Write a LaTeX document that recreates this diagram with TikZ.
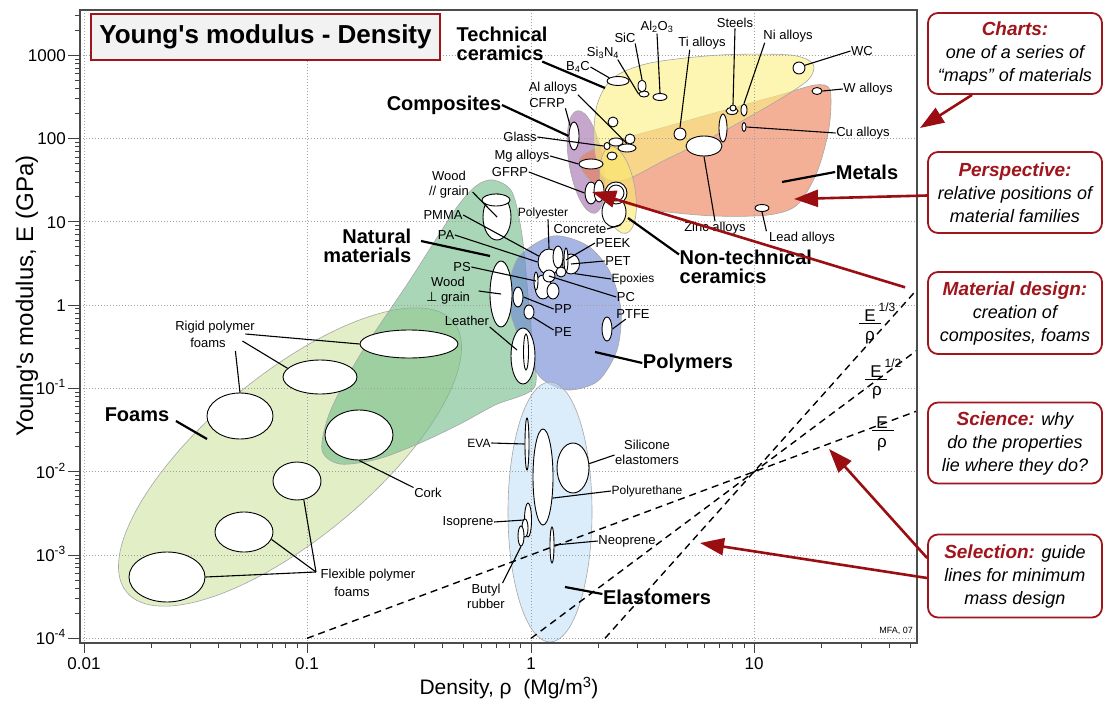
\documentclass[tikz,border=0pt]{standalone}
\usepackage{fontspec}
\setmainfont{Liberation Sans}
\newfontfamily\dejavu{DejaVu Sans}
\usetikzlibrary{arrows.meta,shapes.geometric}
\definecolor{dred}{HTML}{A0151C}
\definecolor{ared}{HTML}{9A0E12}
\definecolor{cfoam}{HTML}{CFE4A0}
\definecolor{cnat}{HTML}{71BB87}
\definecolor{cpoly}{HTML}{6B85D2}
\definecolor{celas}{HTML}{C3E1F8}
\definecolor{ctech}{HTML}{FCF080}
\definecolor{cmet}{HTML}{ED7B53}
\definecolor{ccomp}{HTML}{A26BAD}
\definecolor{cntc}{HTML}{FAEB6E}
\definecolor{cgrid}{HTML}{A0A0A0}
\definecolor{ctitle}{HTML}{F2F2F2}
\newcommand\bub[5]{\node[mat,minimum width=#4pt,minimum height=#5pt] (#1) at (#2,#3) {};}
\begin{document}
\begin{tikzpicture}[x=1pt,y=-1pt,
 mat/.style={ellipse,draw=black,fill=white,line width=0.9pt,inner sep=0pt},
 region/.style={draw=black!35,line width=0.6pt,fill opacity=0.6},
 grid/.style={draw=cgrid,line width=0.7pt,dash pattern=on 1.2pt off 1.8pt},
 lbl/.style={font=\fontsize{13}{15}\selectfont,inner sep=0.5pt,align=center},
 slbl/.style={font=\fontsize{12}{14}\selectfont,inner sep=0.5pt},
 fam/.style={font=\bfseries\fontsize{20}{19}\selectfont,inner sep=0.5pt},
 lead/.style={draw=black,line width=1.1pt},
 famlead/.style={draw=black,line width=2.2pt},
 guide/.style={draw=black,line width=1.4pt,dash pattern=on 7pt off 5pt},
 redarr/.style={draw=ared,line width=2.6pt,-{Triangle[length=24pt,width=17pt]}},
 callout/.style={draw=dred,line width=1.8pt,rounded corners=10pt,fill=white,minimum width=174pt,align=center,font=\itshape\fontsize{18}{23}\selectfont,inner sep=0pt},
 tick/.style={draw=black!75,line width=0.9pt},
 tl/.style={font=\fontsize{17}{17}\selectfont,inner sep=1pt},
 efr/.style={font=\fontsize{17}{17}\selectfont,inner sep=0pt},
 esup/.style={font=\fontsize{12}{12}\selectfont,inner sep=0pt}]
\fill[white] (0,0) rectangle (1106,704);
\useasboundingbox (0,0) rectangle (1106,704);

% ---------- family envelopes
\path[region,fill=cfoam,rotate around={39.6:(290,457)}] (290,457) ellipse [x radius=212,y radius=82];
\path[region,fill=cnat] plot[smooth cycle] coordinates {(493,180) (512,192) (522,235) (528,295) (533,350) (534,388) (495,405) (460,424) (420,443) (378,459) (340,464) (322,450) (330,412) (360,355) (410,280) (455,210) (476,186)};
\path[region,fill=cpoly] plot[smooth cycle] coordinates {(553,236) (588,246) (610,272) (621,310) (617,350) (598,381) (568,390) (541,378) (522,345) (508,300) (518,258)};
\path[region,fill=celas] (550,512) ellipse [x radius=42,y radius=130];
\path[region,fill=ccomp,rotate around={99.6:(586,162)}] (586,162) ellipse [x radius=52,y radius=17];
\path[region,fill=cmet] plot[smooth cycle] coordinates {(582,156) (612,142) (665,127) (725,110) (780,95) (815,85) (830,90) (829,128) (817,172) (797,205) (768,215) (715,216) (660,211) (620,202) (595,185) (581,168)};
\path[region,fill=ctech] plot[smooth cycle] coordinates {(597,105) (613,78) (650,63) (720,55) (790,55) (813,64) (808,80) (775,102) (720,133) (665,160) (625,180) (602,176) (594,145)};
\path[region,fill=cntc,rotate around={100:(618,190)}] (618,190) ellipse [x radius=44,y radius=17];

% ---------- grid
\foreach \d in {0,1,2,3} \draw[grid] ({84+223.5*\d},10) -- ({84+223.5*\d},643);
\foreach \d in {0,...,7} \draw[grid] (80,{638.3-83.3*\d}) -- (917,{638.3-83.3*\d});

% ---------- guide lines
\coordinate (g1a) at (307,638.3); \coordinate (g1b) at (917,411);
\coordinate (g2a) at (531,638.3); \coordinate (g2b) at (917,350.2);
\coordinate (g3a) at (605,638.3); \coordinate (g3b) at (917,289.5);
\draw[guide] (g1a) -- (g1b);
\draw[guide] (g2a) -- (g2b);
\draw[guide] (g3a) -- (g3b);

% ---------- material bubbles
\bub{rf1}{409}{344}{98}{28}
\bub{rf2}{320}{377}{74}{34}
\bub{rf3}{240}{416}{66}{46}
\bub{cork}{359}{435}{68}{50}
\bub{ff1}{297}{481}{48}{38}
\bub{ff2}{244}{532}{58}{40}
\bub{ff3}{167}{577}{76}{50}
\bub{woodpar}{497}{217}{28}{46}
\bub{woodcap}{496}{200}{28}{12}
\bub{woodperp}{501}{294}{22}{66}
\bub{leather}{523}{356}{24}{56}
\bub{leatherin}{526}{352}{5}{36}
\bub{pp}{518}{297}{10}{20}
\bub{pe}{529}{312}{10}{14}
\bub{ptfe}{607}{329}{10}{24}
\bub{c5}{543}{287}{16}{24}
\bub{c6}{553}{291}{12}{16}
\bub{c7}{536}{281}{4}{18}
\bub{c1}{549}{262}{22}{26}
\bub{c3}{571}{264}{17}{20}
\bub{c2}{558}{257}{10}{22}
\bub{c4}{566}{260}{4}{24}
\bub{c8}{549}{276}{12}{12}
\bub{c9}{561}{272}{10}{10}
\bub{eva}{527}{444}{4}{52}
\bub{pu}{543}{477}{20}{96}
\bub{sil}{573}{468}{32}{50}
\bub{iso1}{528}{520}{7}{34}
\bub{iso2}{525}{528}{6}{18}
\bub{butyl}{521}{536}{6}{20}
\bub{neo}{552}{545}{4}{36}
\bub{b4c}{618}{81}{22}{9}
\bub{si3n4}{644}{94}{10}{6}
\bub{sic}{642}{86}{8}{12}
\bub{al2o3}{660}{97}{14}{7}
\bub{ti}{680}{134}{12}{12}
\bub{steelt}{723}{128}{8}{28}
\bub{steel}{732}{111}{12}{7}
\bub{steelb}{733}{108}{6}{6}
\bub{ni}{744}{110}{6}{12}
\bub{wc}{799}{68}{12}{12}
\bub{walloy}{817}{91}{10}{7}
\bub{cu}{744}{127}{4}{9}
\bub{zinc}{704}{146}{36}{20}
\bub{lead}{762}{208}{14}{7}
\bub{cfrp}{574}{136}{10}{28}
\bub{a1}{613}{122}{10}{10}
\bub{a2}{630}{139}{10}{10}
\bub{a3}{616}{142}{14}{8}
\bub{a4}{627}{148}{18}{8}
\bub{a5}{607}{146}{6}{7}
\bub{a6}{612}{156}{10}{8}
\bub{mg}{591}{164}{24}{10}
\bub{gfrp1}{591}{193}{12}{22}
\bub{gfrp2}{599}{191}{10}{22}
\bub{conc3}{614}{212}{24}{30}
\bub{conc1}{616}{193}{22}{22}
\bub{conc2}{616}{193}{16}{16}

% ---------- coordinates for family leaders
\coordinate (foampt) at (207,439);
\coordinate (natpt) at (490,256);
\coordinate (polypt) at (595,352);
\coordinate (elpt) at (565,587);
\coordinate (techpt) at (605,88);
\coordinate (metpt) at (782,182);
\coordinate (ntcpt) at (628,218);

% ---------- foams labels
\node[lbl] (rigid1) at (215,327) {Rigid polymer};
\node[lbl] (rigid2) at (208,343) {foams};
\draw[lead] ([xshift=-10pt,yshift=-7pt]rigid1.east) -- (rf1.west);
\draw[lead] ([xshift=16pt,yshift=2pt]rigid2.east) -- (rf2.165);
\draw[lead] ([xshift=9pt,yshift=-8pt]rigid2.east) -- (rf3.north);
\node[fam] (foams) at (137,415) {Foams};
\draw[famlead] ([xshift=6pt,yshift=-6pt]foams.east) -- (foampt);
\node[lbl] (corkl) at (428,493) {Cork};
\draw[lead] (cork.south) -- (corkl.north west);
\node[lbl] (flex1) at (368,575) {Flexible polymer};
\node[lbl] (flex2) at (352,592) {foams};
\draw[lead] (ff1.-70) -- ([xshift=-4pt,yshift=3pt]flex1.west);
\draw[lead] (ff2.-15) -- ([xshift=-4pt,yshift=3pt]flex1.west);
\draw[lead] (ff3.east) -- ([xshift=-4pt,yshift=3pt]flex1.west);

% ---------- natural / polymers labels
\node[lbl] (woodpl) at (449,185) {Wood\\// grain};
\draw[lead] ([xshift=3pt,yshift=-7pt]woodpl.east) -- (woodpar.center);
\node[lbl] (pmma) at (443,215) {PMMA};
\draw[lead] (pmma.east) -- (c1.150);
\node[lbl] (pa) at (446,235) {PA};
\draw[lead] (pa.east) -- (c1.west);
\node[fam,align=right,anchor=east] (natl) at (412,246) {Natural\\materials};
\draw[famlead] ([xshift=9pt,yshift=5pt]natl.east) -- (natpt);
\node[lbl] (ps) at (462,267) {PS};
\draw[lead] (ps.east) -- (c7.center);
\node[lbl] (woodtl) at (448,291) {Wood\\{\dejavu ⊥} grain};
\draw[lead] ([xshift=8pt]woodtl.east) -- (woodperp.center);
\node[lbl] (leathl) at (467,321) {Leather};
\draw[lead] ([yshift=-6pt]leathl.east) -- ([xshift=-6pt,yshift=6pt]leather.center);
\node[lbl] (ppl) at (563,309) {PP};
\draw[lead] (pp.east) -- (ppl.west);
\node[lbl] (pel) at (563,332) {PE};
\draw[lead] (pe.south east) -- ([yshift=2pt]pel.west);
\node[lbl] (ptfel) at (633,314) {PTFE};
\draw[lead] (ptfe.east) -- ([xshift=10pt]ptfel.south west);
\node[fam] (polyl) at (688,363) {Polymers};
\draw[famlead] (polyl.west) -- (polypt);
\node[slbl] (polyest) at (543,213) {Polyester};
\draw[lead] ([xshift=5pt]polyest.south) -- (c1.north);
\node[lbl] (concl) at (580,229) {Concrete};
\draw[lead] (concl.east) -- (conc3.-60);
\node[lbl] (peekl) at (613,243) {PEEK};
\draw[lead] (peekl.west) -- (c4.center);
\node[lbl] (petl) at (618,261) {PET};
\draw[lead] (petl.west) -- (c3.center);
\node[slbl] (epoxl) at (633,279) {Epoxies};
\draw[lead] (epoxl.west) -- (c3.-70);
\node[lbl] (pcl) at (626,297) {PC};
\draw[lead] (pcl.west) -- (c8.center);

% ---------- elastomers labels
\node[slbl] (eval) at (479,443) {EVA};
\draw[lead] (eval.east) -- (eva.west);
\node[lbl] (sill) at (647,452) {Silicone\\elastomers};
\draw[lead] ([yshift=-3pt]sill.west) -- (sil.15);
\node[slbl] (pul) at (647,491) {Polyurethane};
\draw[lead] (pul.west) -- (pu.-66);
\node[lbl] (isol) at (468,522) {Isoprene};
\draw[lead] (isol.east) -- (iso1.west);
\node[lbl] (butl) at (486,596) {Butyl\\rubber};
\draw[lead] ([xshift=-3pt]butl.north east) -- (butyl.south);
\node[lbl] (neol) at (627,541) {Neoprene};
\draw[lead] (neol.west) -- (neo.east);
\node[fam] (elasl) at (657,597) {Elastomers};
\draw[famlead] ([yshift=3pt]elasl.west) -- (elpt);

% ---------- ceramics, metals, composites labels
\node[fam,align=left,anchor=west] (techl) at (456,44) {Technical\\ceramics};
\draw[famlead] ([xshift=-6pt]techl.south east) -- (techpt);
\node[lbl] (b4cl) at (578,67) {B\textsubscript{4}C};
\draw[lead] (b4cl.east) -- (b4c.160);
\node[lbl] (si3l) at (603,53) {Si\textsubscript{3}N\textsubscript{4}};
\draw[lead] ([xshift=-2pt]si3l.south east) -- (si3n4.west);
\node[lbl] (sicl) at (625,38) {SiC};
\draw[lead] ([xshift=-1pt]sicl.south east) -- (sic.north);
\node[lbl] (al2l) at (657,27) {Al\textsubscript{2}O\textsubscript{3}};
\draw[lead] (al2l.south) -- (al2o3.north);
\node[lbl] (til) at (702,43) {Ti alloys};
\draw[lead] ([xshift=12pt]til.south west) -- (ti.north);
\node[lbl] (steell) at (735,23) {Steels};
\draw[lead] (steell.south) -- (steelb.north);
\node[lbl] (nil) at (788,36) {Ni alloys};
\draw[lead] ([xshift=2pt]nil.south west) -- (ni.north);
\node[lbl] (wcl) at (862,51) {WC};
\draw[lead] (wcl.west) -- (wc.25);
\node[lbl] (wal) at (868,89) {W alloys};
\draw[lead] (wal.west) -- (walloy.east);
\node[lbl] (cul) at (863,133) {Cu alloys};
\draw[lead] (cul.west) -- (cu.east);
\node[fam] (metl) at (867,172) {Metals};
\draw[famlead] (metl.west) -- (metpt);
\node[lbl] (zincl) at (715,228) {Zinc alloys};
\draw[lead] (zincl.north) -- (zinc.south);
\node[lbl] (leadl) at (802,238) {Lead alloys};
\draw[lead] ([xshift=-2pt]leadl.north west) -- (lead.south);
\node[fam] (compl) at (444,105) {Composites};
\draw[famlead] (compl.east) -- (cfrp.west);
\node[lbl] (alal) at (553,88) {Al alloys};
\draw[lead] (alal.south east) -- (a4.north);
\node[lbl] (cfrpl) at (547,103) {CFRP};
\draw[lead] (cfrpl.south east) -- (cfrp.north west);
\node[lbl] (glassl) at (520,137) {Glass};
\draw[lead] (glassl.east) -- (a5.west);
\node[lbl] (mgl) at (522,156) {Mg alloys};
\draw[lead] (mgl.east) -- (mg.west);
\node[lbl] (gfrpl) at (510,172) {GFRP};
\draw[lead] (gfrpl.east) -- (gfrp1.west);
\node[fam,align=left,anchor=west] (ntcl) at (679,267) {Non-technical\\ceramics};
\draw[famlead] ([yshift=-5pt]ntcl.north west) -- (ntcpt);

% ---------- guide-line labels
\node[efr] (e3) at (870,316) {E};
\node[esup] (e3s) at (887,307) {1/3};
\node[efr] (r3) at (870,338) {ρ};
\draw[line width=1pt] ([xshift=-5pt,yshift=-1pt]e3.south west) -- ([xshift=5pt,yshift=-1pt]e3.south east);
\node[efr] (e2) at (876,372) {E};
\node[esup] (e2s) at (893,363) {1/2};
\node[efr] (r2) at (877,393) {ρ};
\draw[line width=1pt] ([xshift=-5pt,yshift=-1pt]e2.south west) -- ([xshift=5pt,yshift=-1pt]e2.south east);
\node[efr] (e1) at (882,423) {E};
\node[efr] (r1) at (882,445) {ρ};
\draw[line width=1pt] ([xshift=-4pt,yshift=-1pt]e1.south west) -- ([xshift=6pt,yshift=-1pt]e1.south east);

\node[font=\fontsize{9}{9}\selectfont] (mfa) at (896,631) {MFA, 07};

% ---------- frame, ticks, labels
\draw[draw=black!70,line width=1.4pt] (80,10) rectangle (917,643);
\foreach \d in {0,...,7} \draw[tick] (68,{638.3-83.3*\d}) -- (80,{638.3-83.3*\d});
\foreach \d in {0,...,6} \foreach \k in {2,...,9} \draw[tick] (75,{638.3-83.3*(\d+log10(\k))}) -- (80,{638.3-83.3*(\d+log10(\k))});
\foreach \k in {2,3} \draw[tick] (75,{638.3-83.3*(7+log10(\k))}) -- (80,{638.3-83.3*(7+log10(\k))});
\foreach \d in {0,...,3} \draw[tick] ({84+223.5*\d},643) -- ({84+223.5*\d},653);
\foreach \d in {0,1,2} \foreach \k in {2,...,9} \draw[tick] ({84+223.5*(\d+log10(\k))},643) -- ({84+223.5*(\d+log10(\k))},648);
\foreach \k in {2,...,5} \draw[tick] ({84+223.5*(3+log10(\k))},643) -- ({84+223.5*(3+log10(\k))},648);

\node[tl,anchor=base east] (y3) at (67,61) {1000};
\node[tl,anchor=base east] (y2) at (67,144) {100};
\node[tl,anchor=base east] (y1) at (67,228) {10};
\node[tl,anchor=base east] (y0) at (67,311) {1};
\node[tl,anchor=base east] (ym1) at (67,394) {10\textsuperscript{-1}};
\node[tl,anchor=base east] (ym2) at (67,478) {10\textsuperscript{-2}};
\node[tl,anchor=base east] (ym3) at (67,561) {10\textsuperscript{-3}};
\node[tl,anchor=base east] (ym4) at (67,644) {10\textsuperscript{-4}};
\node[tl,anchor=base] (x0) at (84,669) {0.01};
\node[tl,anchor=base] (x1) at (307,669) {0.1};
\node[tl,anchor=base] (x2) at (531,669) {1};
\node[tl,anchor=base] (x3) at (754,669) {10};
\node[rotate=90,font=\fontsize{24}{24}\selectfont] (ylab) at (27,296) {Young\textquotesingle s modulus, E (GPa)};
\node[font=\fontsize{21}{21}\selectfont] (xlab) at (509,688) {Density, ρ\ \ (Mg/m\textsuperscript{3})};

% ---------- title
\node[draw=dred,line width=1.8pt,fill=ctitle,minimum width=349pt,minimum height=46pt,inner sep=0pt,font=\bfseries\fontsize{26}{26}\selectfont] (title) at (265.5,37) {Young\textquotesingle s modulus - Density};

% ---------- callouts
\node[callout,minimum height=81pt] (charts) at (1015,53.5) {{\bfseries\color{dred}\fontsize{19}{23}\selectfont Charts:}\\one of a series of\\“maps” of materials};
\node[callout,minimum height=81pt] (persp) at (1015,192.5) {{\bfseries\color{dred}\fontsize{19}{23}\selectfont Perspective:}\\relative positions of\\material families};
\node[callout,minimum height=82pt] (design) at (1015,313) {{\bfseries\color{dred}\fontsize{19}{23}\selectfont Material design:}\\creation of\\composites, foams};
\node[callout,minimum height=81pt] (sci) at (1015,443) {{\bfseries\color{dred}\fontsize{19}{23}\selectfont Science:} why\\do the properties\\lie where they do?};
\node[callout,minimum height=83pt] (sel) at (1015,576) {{\bfseries\color{dred}\fontsize{19}{23}\selectfont Selection:} guide\\lines for minimum\\mass design};

\coordinate (chartpt) at (920,128);
\coordinate (persppt) at (794,199);
\coordinate (designpt) at (592,192);
\coordinate (selA) at (829,449);
\coordinate (selB) at (700,543);
\draw[redarr] ([xshift=-43pt]charts.south) -- (chartpt);
\draw[redarr] ([yshift=-3pt]persp.west) -- (persppt);
\draw[redarr,shorten <=23pt] ([yshift=19pt]design.west) -- (designpt);
\draw[redarr] ([yshift=18pt]sel.west) -- (selA);
\draw[redarr] ([yshift=-2pt]sel.west) -- (selB);
\end{tikzpicture}
\end{document}
